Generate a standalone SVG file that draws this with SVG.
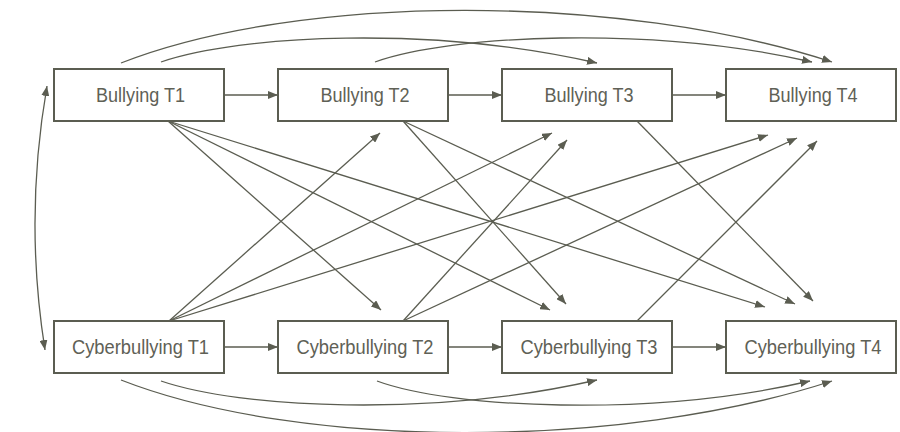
<svg xmlns="http://www.w3.org/2000/svg" width="900" height="432" viewBox="0 0 900 432">
<defs>
<marker id="ah" viewBox="0 0 10 8" refX="10" refY="4" markerWidth="10" markerHeight="8" markerUnits="userSpaceOnUse" orient="auto-start-reverse">
<path d="M0,0 L10,4 L0,8 z" fill="#5b5d51"/>
</marker>
<style>
.box{fill:#fff;stroke:#5b5d51;stroke-width:2}
.lbl{font-family:"Liberation Sans",Arial,sans-serif;font-size:20.5px;fill:#5f6156;text-anchor:middle}
.c{fill:none;stroke:#5b5d51;stroke-width:1.3;marker-end:url(#ah)}
</style>
</defs>
<rect width="900" height="432" fill="#fff"/>
<g id="connectors">
<path class="c" d="M224,95 H278"/>
<path class="c" d="M448,95 H502"/>
<path class="c" d="M672,95 H726"/>
<path class="c" d="M224,347 H278"/>
<path class="c" d="M448,347 H502"/>
<path class="c" d="M672,347 H726"/>
<path class="c" d="M168,121 L381,310"/>
<path class="c" d="M168,121 L550,310"/>
<path class="c" d="M168,121 L765,307"/>
<path class="c" d="M403,121 L566,304"/>
<path class="c" d="M403,121 L795,304"/>
<path class="c" d="M637,121 L813,301"/>
<path class="c" d="M169,321 L380,133"/>
<path class="c" d="M169,321 L552,133"/>
<path class="c" d="M169,321 L768,135"/>
<path class="c" d="M403,321 L567,140"/>
<path class="c" d="M403,321 L797,138"/>
<path class="c" d="M637,321 L817,141"/>
<path class="c" d="M121,63 C300,-7 620,-7 832,62"/>
<path class="c" d="M161,62 C240,35 430,25 597,63"/>
<path class="c" d="M375,62 C450,35 650,25 812,62"/>
<path class="c" d="M121,380 C300,450 620,450 832,381"/>
<path class="c" d="M161,381 C240,408 430,418 597,380"/>
<path class="c" d="M377,381 C450,408 650,418 810,381"/>
<path class="c" style="marker-start:url(#ah)" d="M47,86 Q24,218 45,350"/>
</g>
<g id="b1"><rect class="box" x="54" y="69" width="170" height="52"/><text class="lbl" x="140.5" y="101.5" textLength="89" lengthAdjust="spacingAndGlyphs">Bullying T1</text></g>
<g id="b2"><rect class="box" x="278" y="69" width="170" height="52"/><text class="lbl" x="365" y="101.5" textLength="89" lengthAdjust="spacingAndGlyphs">Bullying T2</text></g>
<g id="b3"><rect class="box" x="502" y="69" width="170" height="52"/><text class="lbl" x="589" y="101.5" textLength="89" lengthAdjust="spacingAndGlyphs">Bullying T3</text></g>
<g id="b4"><rect class="box" x="726" y="69" width="170" height="52"/><text class="lbl" x="813" y="101.5" textLength="89" lengthAdjust="spacingAndGlyphs">Bullying T4</text></g>
<g id="c1"><rect class="box" x="54" y="321" width="170" height="52"/><text class="lbl" x="140.5" y="353.5" textLength="137" lengthAdjust="spacingAndGlyphs">Cyberbullying T1</text></g>
<g id="c2"><rect class="box" x="278" y="321" width="170" height="52"/><text class="lbl" x="365" y="353.5" textLength="137" lengthAdjust="spacingAndGlyphs">Cyberbullying T2</text></g>
<g id="c3"><rect class="box" x="502" y="321" width="170" height="52"/><text class="lbl" x="589" y="353.5" textLength="137" lengthAdjust="spacingAndGlyphs">Cyberbullying T3</text></g>
<g id="c4"><rect class="box" x="726" y="321" width="170" height="52"/><text class="lbl" x="813" y="353.5" textLength="137" lengthAdjust="spacingAndGlyphs">Cyberbullying T4</text></g>
</svg>
